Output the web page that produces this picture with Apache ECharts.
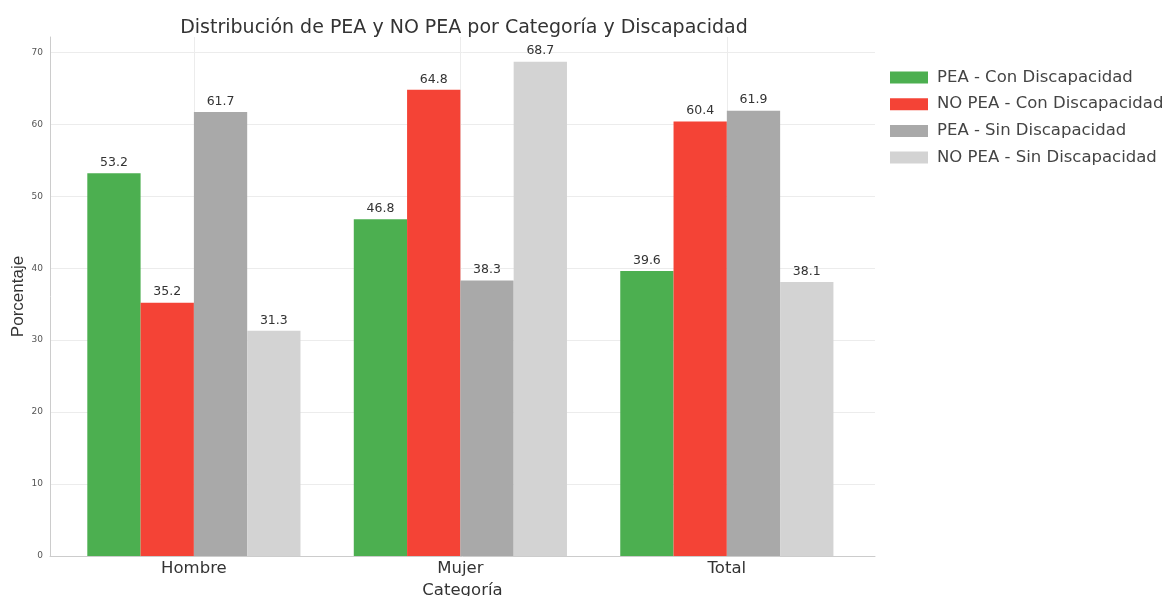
<!DOCTYPE html>
<html>
<head>
<meta charset="utf-8">
<title>Distribución de PEA y NO PEA</title>
<script src="https://cdn.jsdelivr.net/npm/echarts@6/dist/echarts.min.js"></script>
<style>
  html, body { margin: 0; padding: 0; background: #fff; }
  #chart { width: 1176px; height: 596px; }
</style>
</head>
<body>
<div id="chart"></div>
<script>
// Categories along the x axis
const categories = ['Hombre', 'Mujer', 'Total'];

// Percentages per group (Hombre, Mujer, Total)
const peaConDisc = [53.2, 46.8, 39.6];
const noPeaConDisc = [35.2, 64.8, 60.4];
const peaSinDisc = [61.7, 38.3, 61.9];
const noPeaSinDisc = [31.3, 68.7, 38.1];

const seriesNames = [
  'PEA - Con Discapacidad',
  'NO PEA - Con Discapacidad',
  'PEA - Sin Discapacidad',
  'NO PEA - Sin Discapacidad'
];
const seriesColors = ['#4caf50', '#f44336', '#a9a9a9', '#d3d3d3'];
const seriesValues = [peaConDisc, noPeaConDisc, peaSinDisc, noPeaSinDisc];

// Tick positions / labels
const yTicks = [0, 10, 20, 30, 40, 50, 60, 70];
const xTicks = [0, 1, 2];

const WIDE = '"DejaVu Sans", sans-serif';
const NARROW = '"Liberation Sans", Arial, sans-serif';

const chart = echarts.init(document.getElementById('chart'));

const series = seriesNames.map((name, s) => ({
  name: name,
  type: 'bar',
  barWidth: '20%',
  barGap: '0%',
  itemStyle: { color: seriesColors[s] },
  label: {
    show: true,
    position: 'top',
    distance: 4,
    fontFamily: WIDE,
    fontSize: 12.5,
    color: '#333',
    formatter: p => p.value[1].toFixed(1)
  },
  data: seriesValues[s].map((v, i) => [i, v])
}));

chart.setOption({
  animation: false,
  backgroundColor: '#fff',
  title: {
    text: 'Distribución de PEA y NO PEA por Categoría y Discapacidad',
    left: 459,
    textAlign: 'center',
    top: 14,
    textStyle: { fontFamily: WIDE, fontSize: 19, fontWeight: 'normal', color: '#333' }
  },
  legend: {
    orient: 'vertical',
    left: 885,
    top: 64,
    itemWidth: 38,
    itemHeight: 12,
    itemGap: 9.7,
    icon: 'rect',
    textStyle: { fontFamily: WIDE, fontSize: 16.5, color: '#444', padding: [0, 0, 0, 4] },
    data: seriesNames
  },
  grid: { left: 50, right: 301, top: 37, bottom: 40, containLabel: false, outerBoundsMode: 'none' },
  xAxis: {
    type: 'value',
    min: -0.54,
    max: 2.556,
    name: 'Categoría',
    nameLocation: 'middle',
    nameGap: 24,
    nameTextStyle: { fontFamily: WIDE, fontSize: 16.5, color: '#333' },
    axisLine: { show: true, onZero: false, lineStyle: { color: '#cccccc', width: 1 } },
    axisTick: { show: false, customValues: xTicks },
    axisLabel: {
      customValues: xTicks,
      formatter: v => categories[Math.round(v)],
      fontFamily: WIDE, fontSize: 16.5, color: '#333', margin: 4
    },
    splitLine: { show: true, lineStyle: { color: '#ececec', width: 1 } }
  },
  yAxis: {
    type: 'value',
    min: 0,
    max: 72.135,
    name: 'Porcentaje',
    nameLocation: 'middle',
    nameGap: 23,
    nameMoveOverlap: false,
    nameTextStyle: { fontFamily: NARROW, fontSize: 17, color: '#333' },
    axisLine: { show: true, onZero: false, lineStyle: { color: '#cccccc', width: 1 } },
    axisTick: { show: false, customValues: yTicks },
    axisLabel: {
      customValues: yTicks,
      fontFamily: WIDE, fontSize: 9, color: '#555', margin: 7
    },
    splitLine: { show: true, lineStyle: { color: '#ececec', width: 1 } }
  },
  series: series
});
</script>
</body>
</html>
